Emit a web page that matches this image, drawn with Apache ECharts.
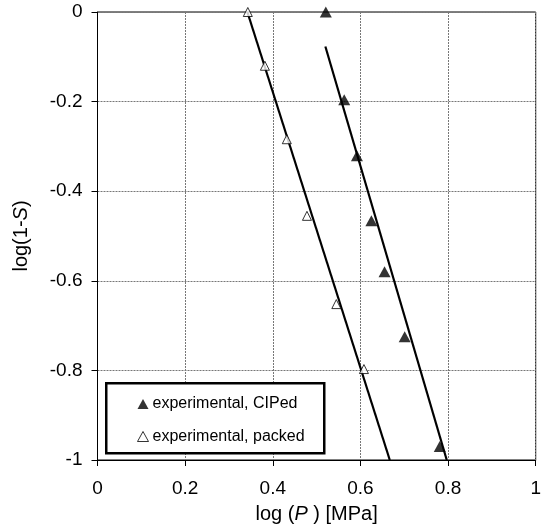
<!DOCTYPE html>
<html><head><meta charset="utf-8">
<script src="https://cdn.jsdelivr.net/npm/echarts@6/dist/echarts.min.js"></script>
<style>html,body{margin:0;padding:0;background:#fff}#c{width:544px;height:531px}</style>
</head><body><div id="c"></div>
<script>
const xTicks = [0, 0.2, 0.4, 0.6, 0.8, 1];
const yTicks = [0, -0.2, -0.4, -0.6, -0.8, -1];
const cipedX = [0.521, 0.563, 0.592, 0.625, 0.655, 0.701, 0.781];
const cipedY = [0, -0.196, -0.321, -0.466, -0.580, -0.725, -0.970];
const packedX = [0.343, 0.382, 0.432, 0.478, 0.545, 0.608];
const packedY = [0, -0.120, -0.284, -0.455, -0.652, -0.797];
const cipedFitX = [0.520, 0.797];
const cipedFitY = [-0.077, -1];
const packedFitX = [0.342, 0.667];
const packedFitY = [0, -1];

const zip = (a, b) => a.map((v, i) => [v, b[i]]);
const font = 'Liberation Sans, Arial, sans-serif';
const chart = echarts.init(document.getElementById('c'), null, {renderer: 'canvas'});
chart.setOption({
  animation: false,
  backgroundColor: '#fff',
  grid: {left: 97.5, top: 12, right: 4, bottom: 71, show: true, borderColor: '#000', borderWidth: 1, backgroundColor: 'transparent'},
  xAxis: {
    type: 'value', min: 0, max: 1, interval: 0.2,
    name: '{n|log (}{i|P}{n| ) [MPa]}', nameLocation: 'middle', nameGap: 44,
    nameTextStyle: {rich: {n: {fontSize: 20, fontFamily: font, color: '#000'}, i: {fontSize: 20, fontFamily: font, fontStyle: 'italic', color: '#000'}}},
    axisLine: {show: true, onZero: false, lineStyle: {color: '#000', width: 1}},
    axisTick: {show: true, length: 6, lineStyle: {color: '#000'}},
    axisLabel: {color: '#000', fontSize: 19, fontFamily: font, margin: 19},
    splitLine: {show: true, lineStyle: {color: '#777', type: [2, 1], width: 1}}
  },
  yAxis: {
    type: 'value', min: -1, max: 0, interval: 0.2,
    name: '{n|log(1-}{i|S}{n|)}', nameLocation: 'middle', nameGap: 66, nameRotate: 90,
    nameTextStyle: {rich: {n: {fontSize: 20, fontFamily: font, color: '#000'}, i: {fontSize: 20, fontFamily: font, fontStyle: 'italic', color: '#000'}}},
    axisLine: {show: true, onZero: false, lineStyle: {color: '#000', width: 1}},
    axisTick: {show: true, length: 6, lineStyle: {color: '#000'}},
    axisLabel: {color: '#000', fontSize: 19, fontFamily: font, margin: 15},
    splitLine: {show: true, lineStyle: {color: '#777', type: [2, 1], width: 1}}
  },
  legend: {
    orient: 'vertical', left: 132, top: 390, itemWidth: 11, itemHeight: 10, itemGap: 14.5, z: 10,
    textStyle: {fontSize: 16, fontFamily: font, color: '#000', lineHeight: 18, padding: [0, 0, 0, -1]},
    data: [
      {name: 'experimental, CIPed', icon: 'triangle'},
      {name: 'experimental, packed', icon: 'triangle', itemStyle: {color: '#fff', borderColor: '#000', borderWidth: 1}}
    ]
  },
  graphic: [{type: 'rect', left: 105, top: 382, z: 5, shape: {width: 218, height: 70}, style: {fill: '#fff', stroke: '#000', lineWidth: 2.5}}],
  series: [
    {name: 'fitC', type: 'line', data: zip(cipedFitX, cipedFitY), showSymbol: false, symbol: 'none', lineStyle: {color: '#000', width: 2.2}, clip: false, z: 2},
    {name: 'fitP', type: 'line', data: zip(packedFitX, packedFitY), showSymbol: false, symbol: 'none', lineStyle: {color: '#000', width: 2.2}, clip: false, z: 2},
    {name: 'experimental, CIPed', type: 'scatter', data: zip(cipedX, cipedY), symbol: 'triangle', symbolSize: [12, 11], itemStyle: {color: '#000'}, clip: false, z: 3},
    {name: 'experimental, packed', type: 'scatter', data: zip(packedX, packedY), symbol: 'triangle', symbolSize: [9, 9], itemStyle: {color: '#fff', borderColor: '#000', borderWidth: 1}, clip: false, z: 3}
  ]
});
</script></body></html>
